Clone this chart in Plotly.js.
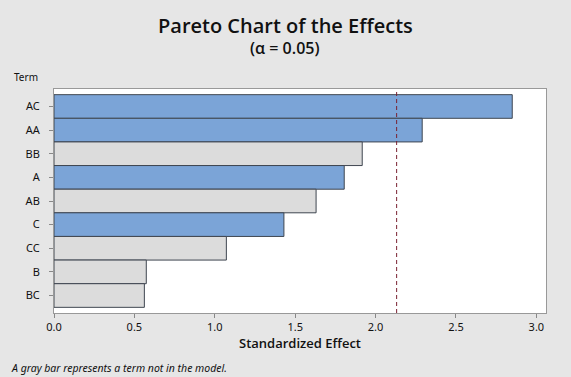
<!DOCTYPE html>
<html>
<head>
<meta charset="utf-8">
<script src="https://cdn.plot.ly/plotly-3.0.1.min.js"></script>
<style>html,body{margin:0;padding:0;background:#e6e6e6;}#chart{width:571px;height:377px;}</style>
</head>
<body>
<div id="chart"></div>
<script>
const terms = ["AC", "AA", "BB", "A", "AB", "C", "CC", "B", "BC"];
const effects = [2.85, 2.29, 1.917, 1.805, 1.63, 1.43, 1.072, 0.574, 0.562];
const inModel = [true, true, false, true, false, true, false, false, false];
const criticalValue = 2.131;
const xTickVals = [0, 0.5, 1, 1.5, 2, 2.5, 3];
const xTickText = ["0.0", "0.5", "1.0", "1.5", "2.0", "2.5", "3.0"];

const font = "Noto Sans, Open Sans, sans-serif";
const semi = "Open Sans, Noto Sans, sans-serif";
const trace = {
  type: "bar",
  orientation: "h",
  x: effects,
  y: terms,
  marker: {
    color: inModel.map(m => m ? "#7ba4d7" : "#dcdcdc"),
    line: {color: "#3f4650", width: 1}
  },
  hoverinfo: "x+y"
};
const layout = {
  width: 571, height: 377,
  paper_bgcolor: "#e6e6e6",
  plot_bgcolor: "#ffffff",
  margin: {l: 54, r: 25, t: 89, b: 64},
  bargap: 0,
  showlegend: false,
  xaxis: {
    range: [0, 3.06],
    tickvals: xTickVals, ticktext: xTickText,
    ticks: "outside", ticklen: 4, tickcolor: "#888",
    showgrid: false, zeroline: false,
    showline: true, linecolor: "#999", mirror: true, linewidth: 1,
    tickfont: {family: font, size: 11, color: "#111"},
    title: {text: "Standardized Effect", font: {family: semi, size: 13, color: "#111", weight: 600}, standoff: 4}
  },
  yaxis: {
    type: "category",
    categoryorder: "array", categoryarray: terms,
    range: [8.74, -0.74],
    ticks: "outside", ticklen: 4, tickcolor: "#888",
    ticklabelstandoff: 7,
    showgrid: false, zeroline: false,
    showline: true, linecolor: "#999", mirror: true, linewidth: 1,
    tickfont: {family: font, size: 11, color: "#111"}
  },
  shapes: [{
    type: "line", xref: "x", yref: "paper",
    x0: criticalValue, x1: criticalValue, y0: 0, y1: 1,
    line: {color: "#7a2232", width: 1, dash: "4px,3px"}
  }],
  annotations: [
    {text: "Pareto Chart of the Effects", xref: "paper", yref: "paper", x: 0.47, y: 1, yshift: 64,
     showarrow: false, font: {family: semi, size: 20, color: "#111", weight: 600}, xanchor: "center", yanchor: "middle"},
    {text: "(α = 0.05)", xref: "paper", yref: "paper", x: 0.47, y: 1, yshift: 41,
     showarrow: false, font: {family: semi, size: 16, color: "#111", weight: 600}, xanchor: "center", yanchor: "middle"},
    {text: "Term", xref: "paper", yref: "paper", x: 0, xshift: -42, y: 1, yshift: 12,
     showarrow: false, font: {family: font, size: 10, color: "#111"}, xanchor: "left", yanchor: "middle"},
    {text: "<i>A gray bar represents a term not in the model.</i>", xref: "paper", yref: "paper", x: 0, xshift: -45, y: 0, yshift: -55,
     showarrow: false, font: {family: font, size: 10.5, color: "#111"}, xanchor: "left", yanchor: "middle"}
  ]
};
Plotly.newPlot("chart", [trace], layout, {displayModeBar: false, staticPlot: true});
</script>
</body>
</html>
